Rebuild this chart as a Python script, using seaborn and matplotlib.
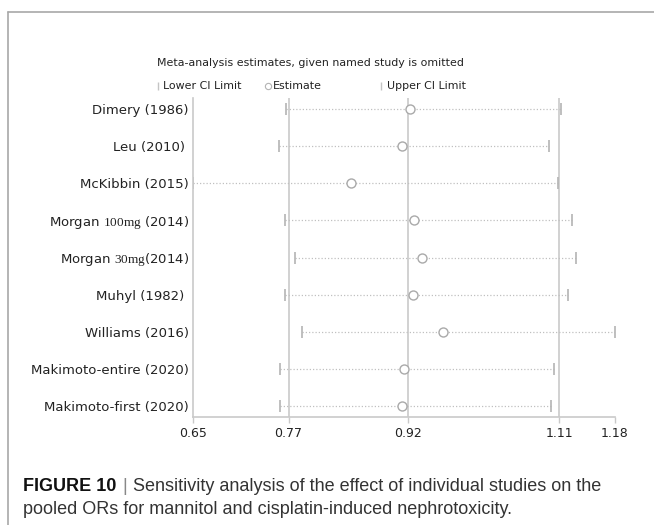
import numpy as np
import pandas as pd
import matplotlib
matplotlib.use("Agg")
import matplotlib.pyplot as plt
import seaborn as sns
from matplotlib.lines import Line2D

# Leave-one-out meta-analysis: pooled OR and 95% CI with each study omitted
studies = [
    "Dimery (1986)",
    "Leu (2010) ",
    "McKibbin (2015)",
    "Morgan $\\mathrm{100mg}$ (2014)",
    "Morgan $\\mathrm{30mg}$(2014)",
    "Muhyl (1982) ",
    "Williams (2016)",
    "Makimoto-entire (2020)",
    "Makimoto-first (2020)",
]
lower = [0.767, 0.758, 0.650, 0.765, 0.778, 0.766, 0.787, 0.759, 0.759]
estimate = [0.923, 0.912, 0.848, 0.928, 0.938, 0.926, 0.964, 0.915, 0.913]
upper = [1.112, 1.097, 1.108, 1.126, 1.131, 1.121, 1.180, 1.103, 1.099]

xticks = [0.65, 0.77, 0.92, 1.11, 1.18]
ref_lines = [0.77, 0.92, 1.11]

sns.set_theme(style="white")
plt.rcParams["font.family"] = ["DejaVu Sans"]
plt.rcParams["mathtext.fontset"] = "custom"
plt.rcParams["mathtext.rm"] = "Liberation Serif"

W, H = 654, 525
fig = plt.figure(figsize=(W / 100, H / 100), dpi=100)
fig.patch.set_facecolor("white")


def fx(px):
    return px / W


def fy(py):
    return 1 - py / H


ax = fig.add_axes([fx(193), fy(417), fx(615) - fx(193), fy(98) - fy(417)])

df = pd.DataFrame({
    "study": studies,
    "lower": lower,
    "estimate": estimate,
    "upper": upper,
    "pos": np.arange(len(studies)),
})

grey_line = "#c9c9c9"
for v in ref_lines:
    ax.axvline(v, color=grey_line, lw=1.2, zorder=0)

ax.hlines(df["pos"], df["lower"], df["upper"], colors="#c0c0c0",
          linestyles=(0, (1, 1.6)), lw=0.9, zorder=1)
sns.scatterplot(data=df, x="lower", y="pos", marker="|", s=70,
                color="#b4b4b4", linewidth=1.2, ax=ax, zorder=2, legend=False)
sns.scatterplot(data=df, x="upper", y="pos", marker="|", s=70,
                color="#b4b4b4", linewidth=1.2, ax=ax, zorder=2, legend=False)
sns.scatterplot(data=df, x="estimate", y="pos", marker="o", s=42,
                facecolor="white", edgecolor="#a9a9a9", linewidth=1.0,
                ax=ax, zorder=3, legend=False)

ax.set_xlim(0.65, 1.18)
ax.set_ylim(8.3, -0.3)
ax.set_xticks(xticks)
ax.set_xticklabels([f"{t:.2f}" for t in xticks], fontsize=9, color="#222222")
ax.set_yticks(df["pos"])
ax.set_yticklabels(df["study"], fontsize=9.5, color="#222222")
ax.tick_params(axis="y", length=0, pad=3)
ax.tick_params(axis="x", length=4, width=1, color=grey_line, pad=3,
               bottom=True, direction="out")
ax.set_xlabel("")
ax.set_ylabel("")
sns.despine(ax=ax)
for side in ("left", "bottom"):
    ax.spines[side].set_color(grey_line)
    ax.spines[side].set_linewidth(1.2)

# Title and legend row
hdr = 7.9
fig.text(fx(157), fy(63), "Meta-analysis estimates, given named study is omitted",
         fontsize=hdr, color="#222222", ha="left", va="center")
leg_y = fy(86)
fig.add_artist(Line2D([fx(158)], [leg_y], marker="|", markersize=6,
                      color="#c4c4c4", mew=1.0, transform=fig.transFigure))
fig.text(fx(163), leg_y, "Lower CI Limit", fontsize=hdr, color="#222222",
         ha="left", va="center")
fig.add_artist(Line2D([fx(268)], [leg_y], marker="o", markersize=4.5,
                      color="#b4b4b4", mfc="white", mew=0.8,
                      transform=fig.transFigure))
fig.text(fx(273), leg_y, "Estimate", fontsize=hdr, color="#222222",
         ha="left", va="center")
fig.add_artist(Line2D([fx(381)], [leg_y], marker="|", markersize=6,
                      color="#c4c4c4", mew=1.0, transform=fig.transFigure))
fig.text(fx(387), leg_y, "Upper CI Limit", fontsize=hdr, color="#222222",
         ha="left", va="center")

# Panel frame
fig.add_artist(Line2D([fx(8), 1], [fy(12), fy(12)], color="#a8a8a8", lw=1.2,
                      transform=fig.transFigure))
fig.add_artist(Line2D([fx(8), fx(8)], [fy(12), 0], color="#a8a8a8", lw=1.2,
                      transform=fig.transFigure))

# Caption
cap_font = ["Liberation Sans"]
cap_size = 13
renderer = fig.canvas.get_renderer()
t1 = fig.text(fx(23), fy(491), "FIGURE 10", fontsize=cap_size, fontweight="bold",
              family=cap_font, color="#111111", ha="left", va="baseline")
bb = t1.get_window_extent(renderer)
t2 = fig.text(bb.x1 / W + fx(6), fy(491), "|", fontsize=cap_size, family=cap_font,
              color="#888888", ha="left", va="baseline")
bb2 = t2.get_window_extent(renderer)
fig.text(bb2.x1 / W + fx(6), fy(491),
         "Sensitivity analysis of the effect of individual studies on the",
         fontsize=cap_size, family=cap_font, color="#333333", ha="left",
         va="baseline")
fig.text(fx(23), fy(514),
         "pooled ORs for mannitol and cisplatin-induced nephrotoxicity.",
         fontsize=cap_size, family=cap_font, color="#333333", ha="left",
         va="baseline")

fig.savefig("out.png", dpi=100)
